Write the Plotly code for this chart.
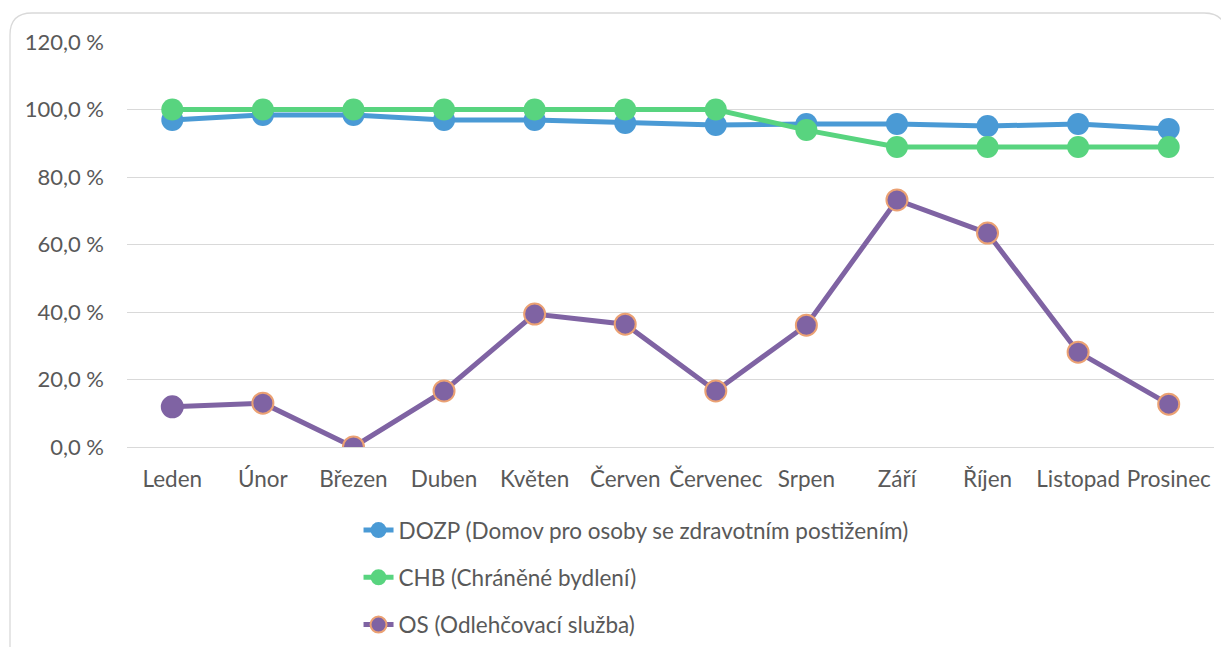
import plotly.graph_objects as go

months = ["Leden", "Únor", "Březen", "Duben", "Květen", "Červen", "Červenec",
          "Srpen", "Září", "Říjen", "Listopad", "Prosinec"]
dozp = [96.9, 98.4, 98.4, 96.9, 96.9, 96.0, 95.4, 95.7, 95.7, 95.1, 95.7, 94.2]
chb = [100.0, 100.0, 100.0, 100.0, 100.0, 100.0, 100.0, 93.9, 88.9, 88.9, 88.9, 88.9]
os_vals = [11.9, 13.0, 0.0, 16.6, 39.4, 36.4, 16.6, 36.1, 73.2, 63.4, 28.1, 12.7]

names = ["DOZP (Domov pro osoby se zdravotním postižením)",
         "CHB (Chráněné bydlení)",
         "OS (Odlehčovací služba)"]

FONT = "Lato"
TXT = "#595959"
BLUE, GREEN, PURPLE, ORANGE = "#4A9AD5", "#58D47F", "#7F63A3", "#EBA173"

fig = go.Figure()
fig.add_trace(go.Scatter(
    x=months, y=dozp, name=names[0], mode="lines+markers", legendgroup="a",
    line=dict(color=BLUE, width=5),
    marker=dict(size=22, color=BLUE),
))
fig.add_trace(go.Scatter(
    x=months, y=chb, name=names[1], mode="lines+markers", legendgroup="b",
    line=dict(color=GREEN, width=5),
    marker=dict(size=22, color=GREEN),
))
fig.add_trace(go.Scatter(
    x=months, y=os_vals, name=names[2], mode="lines+markers", legendgroup="c",
    showlegend=False,
    line=dict(color=PURPLE, width=5),
    marker=dict(size=21, color=PURPLE,
                line=dict(width=2, color=[PURPLE] + [ORANGE] * 11)),
))
# legend entry for OS (with the outlined marker)
fig.add_trace(go.Scatter(
    x=[None], y=[None], name=names[2], mode="lines+markers", legendgroup="c",
    line=dict(color=PURPLE, width=5),
    marker=dict(size=16, color=PURPLE, line=dict(width=2, color=ORANGE)),
))

# page body has an 8px margin; figure sized to fit window
W, H = 1221, 639
l, r, t, b = 119, 15, 34, 200

fig.update_layout(
    width=W, height=H,
    margin=dict(l=l, r=r, t=t, b=b, autoexpand=False),
    paper_bgcolor="white", plot_bgcolor="white",
    separators=", ",
    font=dict(family=FONT, size=22, color=TXT),
    showlegend=True,
    legend=dict(
        x=0.213, y=-0.153, xanchor="left", yanchor="top",
        orientation="v", tracegroupgap=15,
        font=dict(family=FONT, size=22.5, color=TXT),
        bgcolor="rgba(0,0,0,0)",
    ),
    xaxis=dict(
        type="category", range=[-0.5, 11.5], showgrid=False,
        showline=False, ticks="", tickfont=dict(size=22.5, color=TXT),
        ticklabelstandoff=16, automargin=False,
    ),
    yaxis=dict(
        range=[0, 120], dtick=20, tickformat=".1f", ticksuffix=" %",
        showgrid=True, gridcolor="#D9D9D9", gridwidth=1,
        zeroline=True, zerolinecolor="#D9D9D9", zerolinewidth=1,
        showline=False, ticks="", tickfont=dict(size=22, color=TXT),
        ticklabelstandoff=22, automargin=False,
    ),
)

pw, ph = W - l - r, H - t - b

def px(xp):
    return (xp - l) / pw

def py(yp):
    return (H - b - yp) / ph

# rounded chart-area border (figure pixel coords)
x0, y0, x1, y1, rad = 2, 5, 1218, 660, 22
path = (f"M {px(x0)} {py(y1)} L {px(x0)} {py(y0 + rad)} "
        f"Q {px(x0)} {py(y0)} {px(x0 + rad)} {py(y0)} "
        f"L {px(x1 - rad)} {py(y0)} "
        f"Q {px(x1)} {py(y0)} {px(x1)} {py(y0 + rad)} "
        f"L {px(x1)} {py(y1)}")
fig.update_layout(shapes=[dict(
    type="path", xref="paper", yref="paper", layer="below", path=path,
    line=dict(color="#D9D9D9", width=1.3),
)])

fig.write_html("out.html")
